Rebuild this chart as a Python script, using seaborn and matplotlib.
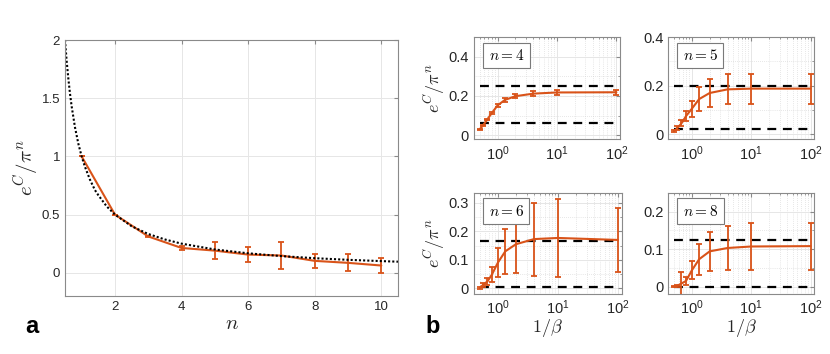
import matplotlib
matplotlib.use("Agg")
import matplotlib.pyplot as plt
import seaborn as sns
import pandas as pd

# ---- panel a data ----
n_vals = [1, 2, 3, 4, 5, 6, 7, 8, 9, 10]
ratio_a = [1.0, 0.5, 0.312, 0.213, 0.19, 0.156, 0.148, 0.102, 0.085, 0.062]
err_a = [0.0, 0.0, 0.006, 0.02, 0.07, 0.065, 0.12, 0.057, 0.074, 0.068]

# dotted reference curve
n_ref = [0.5, 0.55, 0.6, 0.65, 0.7, 0.8, 0.9, 1.0, 1.1, 1.25, 1.4, 1.5, 1.75, 2.0,
         2.5, 3.0, 3.5, 4.0, 5.0, 6.0, 7.0, 8.0, 9.0, 10.0, 10.5]
ratio_ref = [2.0, 1.82, 1.67, 1.54, 1.43, 1.25, 1.11, 1.0, 0.91, 0.8, 0.71, 0.667, 0.571, 0.5,
             0.4, 0.333, 0.286, 0.25, 0.2, 0.167, 0.143, 0.125, 0.111, 0.1, 0.095]

# ---- panel b data ----
inv_beta = [0.5, 0.57, 0.67, 0.8, 1.0, 1.33, 2.0, 4.0, 10.0, 100.0]
panel_n = [4, 5, 6, 8]
ratio_b = {
    4: [0.03, 0.05, 0.08, 0.113, 0.152, 0.18, 0.199, 0.212, 0.218, 0.219],
    5: [0.012, 0.025, 0.045, 0.075, 0.105, 0.145, 0.17, 0.185, 0.188, 0.188],
    6: [0.002, 0.012, 0.024, 0.049, 0.09, 0.13, 0.155, 0.173, 0.177, 0.17],
    8: [0.0, 0.002, 0.008, 0.015, 0.043, 0.073, 0.094, 0.103, 0.107, 0.108],
}
err_b = {
    4: [0.003, 0.004, 0.005, 0.006, 0.008, 0.009, 0.01, 0.012, 0.012, 0.013],
    5: [0.004, 0.007, 0.012, 0.02, 0.033, 0.048, 0.057, 0.062, 0.062, 0.062],
    6: [0.003, 0.006, 0.012, 0.026, 0.05, 0.08, 0.1, 0.128, 0.138, 0.112],
    8: [0.002, 0.003, 0.03, 0.011, 0.024, 0.041, 0.053, 0.06, 0.063, 0.063],
}
upper_b = {4: 0.25, 5: 0.2, 6: 0.167, 8: 0.125}
lower_b = {4: 0.0625, 5: 0.022, 6: 0.005, 8: 0.0}
ylims_b = {4: (-0.02, 0.5), 5: (-0.02, 0.4), 6: (-0.02, 0.335), 8: (-0.02, 0.25)}
yticks_b = {4: [0, 0.2, 0.4], 5: [0, 0.2, 0.4], 6: [0, 0.1, 0.2, 0.3], 8: [0, 0.1, 0.2]}

ORANGE = "#D95319"
SPINE = "#8a8a8a"
TXT = "#262626"

sns.set_style("whitegrid")
plt.rcParams["font.family"] = ["Liberation Sans", "DejaVu Sans"]
plt.rcParams["mathtext.fontset"] = "cm"

fig = plt.figure(figsize=(8.3, 3.54), dpi=100)


def style_axes(ax, size):
    for s in ax.spines.values():
        s.set_color(SPINE)
        s.set_linewidth(0.8)
    ax.tick_params(direction="in", which="both", top=True, right=True,
                   color=SPINE, labelcolor=TXT, labelsize=size, length=3)
    ax.tick_params(which="minor", length=1.5)
    ax.grid(True, which="major", color="#e6e6e6", lw=0.7)
    ax.set_axisbelow(True)


# ---- panel a ----
axa = fig.add_axes([0.0783, 0.1638, 0.4012, 0.7232])
style_axes(axa, 9.5)
df_ref = pd.DataFrame({"n": n_ref, "r": ratio_ref})
df_a = pd.DataFrame({"n": n_vals, "r": ratio_a})
sns.lineplot(data=df_a, x="n", y="r", ax=axa, color=ORANGE, lw=1.5)
axa.errorbar(n_vals, ratio_a, yerr=err_a, fmt="none", ecolor=ORANGE,
             elinewidth=1.3, capsize=2.5, capthick=1.3)
sns.lineplot(data=df_ref, x="n", y="r", ax=axa, color="black", lw=1.5,
             linestyle=(0, (1, 1)))
axa.set_xlim(0.5, 10.5)
axa.set_ylim(-0.2, 2)
axa.set_xticks([2, 4, 6, 8, 10])
axa.set_yticks([0, 0.5, 1, 1.5, 2])
axa.set_yticklabels(["0", "0.5", "1", "1.5", "2"])
axa.set_xlabel("$n$", fontsize=15, color=TXT, labelpad=1)
axa.set_ylabel(r"$e^C/\pi^n$", fontsize=15, color=TXT, labelpad=1)

# ---- panel b ----
pos_b = {
    4: [0.571, 0.607, 0.176, 0.288],
    5: [0.805, 0.607, 0.176, 0.288],
    6: [0.571, 0.1695, 0.178, 0.2853],
    8: [0.805, 0.1695, 0.176, 0.2853],
}
for k in panel_n:
    ax = fig.add_axes(pos_b[k])
    ax.set_xscale("log")
    style_axes(ax, 10.5)
    ax.grid(True, which="minor", color="#d0d0d0", lw=0.5, linestyle=(0, (1, 2)))
    ax.hlines([upper_b[k], lower_b[k]], 0.5, 100, colors="black", lw=1.6,
              linestyles=(0, (4, 3)))
    df_b = pd.DataFrame({"x": inv_beta, "r": ratio_b[k]})
    sns.lineplot(data=df_b, x="x", y="r", ax=ax, color=ORANGE, lw=1.5)
    ax.errorbar(inv_beta, ratio_b[k], yerr=err_b[k], fmt="none", ecolor=ORANGE,
                elinewidth=1.3, capsize=2.5, capthick=1.3)
    ax.set_xlim(0.4, 115)
    ax.set_ylim(*ylims_b[k])
    ax.set_xticks([1, 10, 100])
    ax.set_yticks(yticks_b[k])
    ax.set_yticklabels([("%g" % v) for v in yticks_b[k]])
    ax.yaxis.set_minor_locator(matplotlib.ticker.AutoMinorLocator(2))
    ax.text(0.1, 0.82, "$n=%d$" % k, transform=ax.transAxes, fontsize=11,
            va="center", ha="left", color="black",
            bbox=dict(boxstyle="square,pad=0.35", fc="white", ec="#7a7a7a", lw=0.8))
    if k in (4, 6):
        ax.set_ylabel(r"$e^C/\pi^n$", fontsize=13, color=TXT, labelpad=1)
    else:
        ax.set_ylabel("")
    if k in (6, 8):
        ax.set_xlabel(r"$1/\beta$", fontsize=13, color=TXT, labelpad=0)
    else:
        ax.set_xlabel("")

fig.text(0.03, 0.06, "a", fontsize=17, fontweight="bold", color="black")
fig.text(0.513, 0.06, "b", fontsize=17, fontweight="bold", color="black")

fig.savefig("out.png", dpi=100)
